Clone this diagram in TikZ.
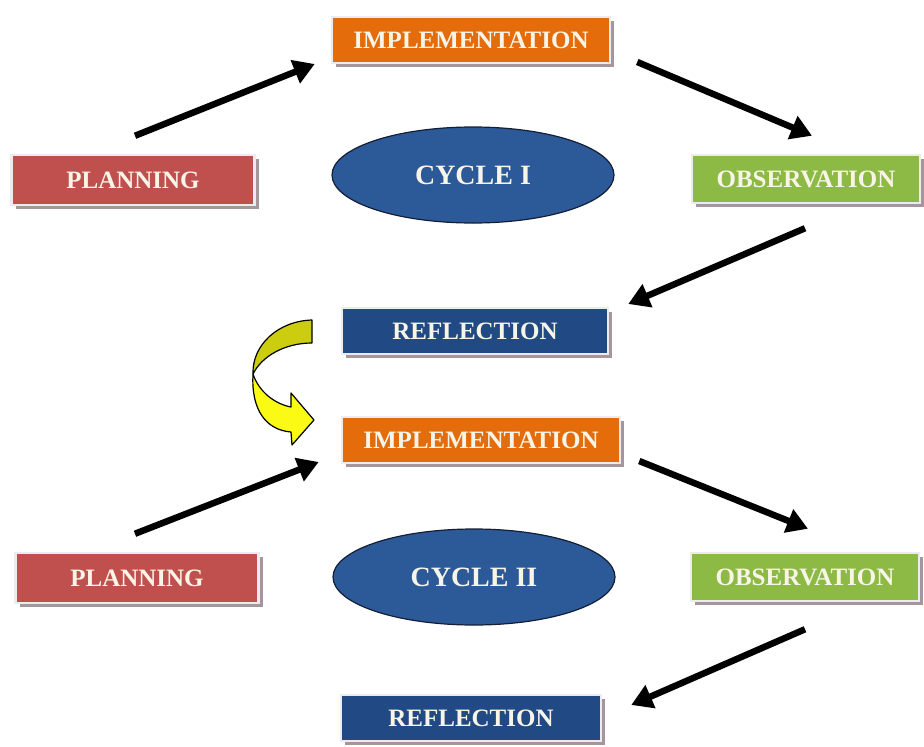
\documentclass[tikz,border=0pt]{standalone}
\usepackage{fontspec}
\setmainfont{Liberation Serif}
\usetikzlibrary{shapes,arrows.meta,shadows}
\definecolor{planred}{RGB}{192,80,77}
\definecolor{implorange}{RGB}{228,108,10}
\definecolor{obsgreen}{RGB}{140,186,68}
\definecolor{reflblue}{RGB}{33,74,132}
\definecolor{cycblue}{RGB}{44,89,152}
\definecolor{boxtext}{RGB}{248,245,232}
\definecolor{boxedge}{RGB}{236,236,240}
\definecolor{shadowgrey}{RGB}{165,150,155}
\definecolor{turnyellow}{RGB}{250,250,20}
\tikzset{box/.style={rectangle,draw=boxedge,line width=2.5pt,inner sep=0pt,text=boxtext,font=\fontsize{25}{30}\selectfont\bfseries,drop shadow={shadow xshift=4pt,shadow yshift=-4pt,fill=shadowgrey,opacity=1}},
  cyc/.style={ellipse,draw={rgb,255:red,20;green,30;blue,55},line width=1.2pt,fill=cycblue,inner sep=0pt,minimum width=282pt,minimum height=96pt,text=boxtext,font=\fontsize{28}{32}\selectfont\bfseries},
  flow/.style={line width=6.5pt,-{Triangle[length=21pt,width=24pt]}}}

\begin{document}
\begin{tikzpicture}[x=1pt,y=-1pt]
  \useasboundingbox (0,0) rectangle (924,747);
  \node[box,fill=planred,minimum width=243pt,minimum height=50pt] (plan1) at (133,180) {PLANNING};
  \node[box,fill=implorange,minimum width=278pt,minimum height=46pt] (impl1) at (471,40) {IMPLEMENTATION};
  \node[box,fill=obsgreen,minimum width=228pt,minimum height=48pt] (obs1) at (806,179) {OBSERVATION};
  \node[cyc] (cyc1) at (473,175) {CYCLE I};
  \node[box,fill=reflblue,minimum width=266pt,minimum height=46pt] (refl1) at (475,331) {REFLECTION};
  \node[box,fill=implorange,minimum width=278pt,minimum height=46pt] (impl2) at (481,440) {IMPLEMENTATION};
  \node[box,fill=planred,minimum width=243pt,minimum height=50pt] (plan2) at (137,578) {PLANNING};
  \node[cyc] (cyc2) at (474,577) {CYCLE II};
  \node[box,fill=obsgreen,minimum width=228pt,minimum height=48pt] (obs2) at (805,577) {OBSERVATION};
  \node[box,fill=reflblue,minimum width=260pt,minimum height=46pt] (refl2) at (471,718) {REFLECTION};
  \draw[flow] ([xshift=2pt,yshift=18pt]plan1.north) -- ([xshift=-16pt,yshift=-24pt]impl1.west);
  \draw[flow] ([xshift=26pt,yshift=-22pt]impl1.east) -- ([xshift=6pt,yshift=18pt]obs1.north);
  \draw[flow] ([xshift=-1pt,yshift=-24pt]obs1.south) -- ([xshift=19pt,yshift=27pt]refl1.east);
  \draw[flow] ([xshift=-2pt,yshift=18pt]plan2.north) -- ([xshift=-22pt,yshift=-22pt]impl2.west);
  \draw[flow] ([xshift=18pt,yshift=-21pt]impl2.east) -- ([xshift=3pt,yshift=23pt]obs2.north);
  \draw[flow] ([xshift=0pt,yshift=-27pt]obs2.south) -- ([xshift=29pt,yshift=13pt]refl2.east);
  % turning arrow from cycle I to cycle II
  \draw[line width=1.2pt,line join=round,fill=turnyellow!82!black] (312,320) .. controls (278,321) and (252,345) .. (253,374)
    .. controls (262,356) and (285,343) .. (312,343) -- cycle;
  \draw[line width=1.2pt,line join=round,fill=turnyellow] (253,374) .. controls (251,410) and (266,430) .. (291,432)
    -- (292,445) -- (314,420) -- (291,393) -- (291,407) .. controls (275,404) and (259,392) .. (253,374) -- cycle;
\end{tikzpicture}
\end{document}
